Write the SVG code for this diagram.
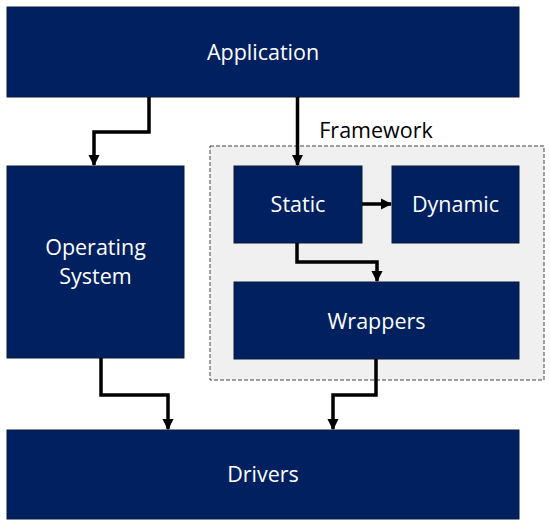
<svg xmlns="http://www.w3.org/2000/svg" width="550" height="523" viewBox="0 0 550 523">
<style>
.node{fill:#002060;stroke:#0b1a3a;stroke-width:1}
.lbl{font-family:"Open Sans","Noto Sans",sans-serif;font-size:21.5px;fill:#ffffff;text-anchor:middle;dominant-baseline:central}
.conn{fill:none;stroke:#000;stroke-width:3.5;stroke-linejoin:miter}
</style>
<defs>
<marker id="ah" viewBox="0 0 10 10" refX="9" refY="5" markerWidth="3.2" markerHeight="3.2" markerUnits="strokeWidth" orient="auto">
<path d="M0,0 L10,5 L0,10 z" fill="#000"/>
</marker>
</defs>
<rect width="550" height="523" fill="#ffffff"/>
<g id="framework">
<rect x="210" y="146" width="334" height="234" fill="#f0f0f0" stroke="#444" stroke-width="1" stroke-dasharray="4,2"/>
<text x="376" y="129" font-family="'Open Sans','Noto Sans',sans-serif" font-size="21.5" fill="#000" text-anchor="middle" dominant-baseline="central">Framework</text>
</g>
<g id="application"><rect class="node" x="7" y="7" width="512" height="90"/><text class="lbl" x="263" y="51">Application</text></g>
<g id="os"><rect class="node" x="7" y="166" width="177" height="192"/><text class="lbl" x="95.5" y="246">Operating</text><text class="lbl" x="95.5" y="275">System</text></g>
<g id="static"><rect class="node" x="234" y="166" width="128" height="77"/><text class="lbl" x="298" y="203">Static</text></g>
<g id="dynamic"><rect class="node" x="392" y="166" width="127" height="77"/><text class="lbl" x="455.5" y="203">Dynamic</text></g>
<g id="wrappers"><rect class="node" x="234" y="282" width="285" height="77"/><text class="lbl" x="376.5" y="320">Wrappers</text></g>
<g id="drivers"><rect class="node" x="7" y="430" width="512" height="89"/><text class="lbl" x="263" y="473">Drivers</text></g>
<g id="connectors">
<path class="conn" d="M149,97 V132 H94 V165" marker-end="url(#ah)"/>
<path class="conn" d="M297.5,97 V165" marker-end="url(#ah)"/>
<path class="conn" d="M362,204 H391" marker-end="url(#ah)"/>
<path class="conn" d="M297,243 V262 H377 V281" marker-end="url(#ah)"/>
<path class="conn" d="M101,358 V395 H168 V429" marker-end="url(#ah)"/>
<path class="conn" d="M376,359 V395 H333 V429" marker-end="url(#ah)"/>
</g>
</svg>
